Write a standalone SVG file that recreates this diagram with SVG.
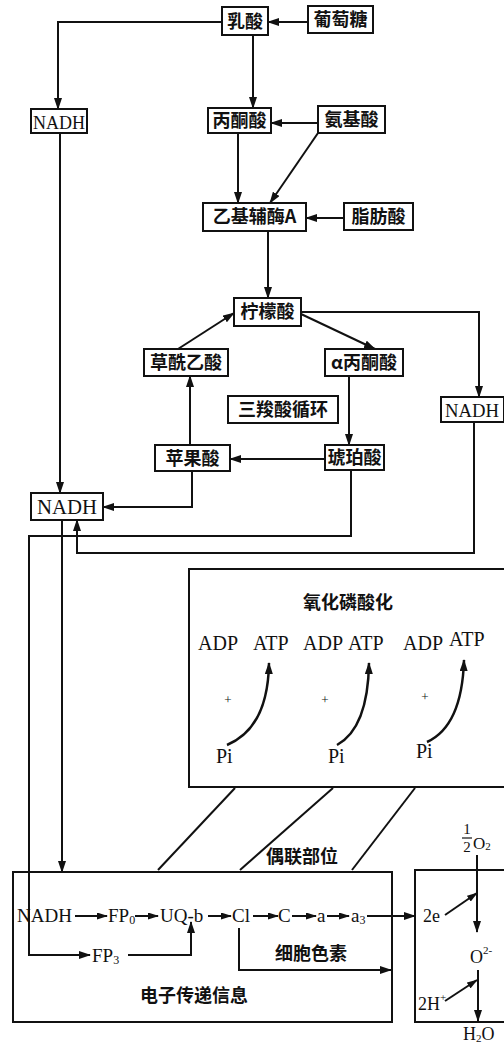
<svg xmlns="http://www.w3.org/2000/svg" width="504" height="1043" viewBox="0 0 504 1043">
<style>
.bx{fill:#fff;stroke:#111;stroke-width:2}
.cn{font-family:"Noto Sans CJK SC",sans-serif;font-weight:bold;font-size:18px;fill:#111;text-anchor:middle}
.lt{font-family:"Liberation Serif",serif;font-size:19px;fill:#111}
.ln{fill:none;stroke:#111;stroke-width:2}
.lnA{fill:none;stroke:#111;stroke-width:2;marker-end:url(#ah)}
.lnS{fill:none;stroke:#111;stroke-width:2;marker-end:url(#as)}
.cv{fill:none;stroke:#111;stroke-width:2.5;marker-end:url(#ah)}
</style>
<defs>
<marker id="ah" markerWidth="12" markerHeight="8" refX="11" refY="4" orient="auto" markerUnits="userSpaceOnUse"><path d="M0,0 L12,4 L0,8 z" fill="#111"/></marker>
<marker id="as" markerWidth="11" markerHeight="7" refX="10" refY="3.5" orient="auto" markerUnits="userSpaceOnUse"><path d="M0,0 L11,3.5 L0,7 z" fill="#111"/></marker>
</defs>
<rect width="504" height="1043" fill="#fff"/>

<g id="connectors">
<path class="lnA" d="M308,22 H268"/>
<path class="lnA" d="M222,22 H58 V109"/>
<path class="lnA" d="M253,35 V108"/>
<path class="lnA" d="M318,123 H271"/>
<path class="lnA" d="M318,133 L270,203"/>
<path class="lnA" d="M238,133 V203"/>
<path class="lnA" d="M344,218 H306"/>
<path class="lnA" d="M268,231 V298"/>
<path class="lnA" d="M301,312 H479 V397"/>
<path class="lnA" d="M178,349 L234,313"/>
<path class="lnA" d="M301,314 L375,349"/>
<path class="lnA" d="M349,376 V445"/>
<path class="lnA" d="M325,459 H230"/>
<path class="lnA" d="M190,445 V376"/>
<path class="lnA" d="M192,471 V507 H103"/>
<path class="lnA" d="M60,133 V493"/>
<path class="lnA" d="M351,470 V536 H29 V955 H90"/>
<path class="lnA" d="M474,422 V553 H77 V520"/>
<path class="lnA" d="M62,520 V872"/>
<path class="ln" d="M158,870 L235,788"/>
<path class="ln" d="M240,870 L333,788"/>
<path class="ln" d="M352,870 L415,788"/>
<path class="lnS" d="M75,916 H107"/>
<path class="lnS" d="M135,916 H158"/>
<path class="lnS" d="M208,916 H231"/>
<path class="lnS" d="M253,916 H278"/>
<path class="lnS" d="M292,916 H316"/>
<path class="lnS" d="M327,916 H349"/>
<path class="lnA" d="M367,916 H415"/>
<path class="lnA" d="M128,955 H191 V922"/>
<path class="lnA" d="M239,928 V970 H391"/>
<path class="lnA" d="M477,855 V932"/>
<path class="lnS" d="M445,915 L477,893"/>
<path class="lnA" d="M478,970 V1021"/>
<path class="lnS" d="M445,1001 L477,980"/>
</g>

<g id="n-rusuan"><rect class="bx" x="222" y="7" width="46" height="28"/><text class="cn" x="245" y="28">乳酸</text></g>
<g id="n-putaotang"><rect class="bx" x="308" y="6" width="65" height="27"/><text class="cn" x="340.5" y="26">葡萄糖</text></g>
<g id="n-nadh1"><rect class="bx" x="31" y="109" width="56" height="24"/><text class="lt" x="59" y="129" text-anchor="middle" textLength="52" lengthAdjust="spacingAndGlyphs">NADH</text></g>
<g id="n-bingtongsuan"><rect class="bx" x="208" y="108" width="63" height="25"/><text class="cn" x="239.5" y="127">丙酮酸</text></g>
<g id="n-anjisuan"><rect class="bx" x="318" y="106" width="67" height="27"/><text class="cn" x="351.5" y="126">氨基酸</text></g>
<g id="n-yijifumei"><rect class="bx" x="203" y="203" width="103" height="28"/><text class="cn" x="254.5" y="223">乙基辅酶A</text></g>
<g id="n-zhifangsuan"><rect class="bx" x="344" y="203" width="69" height="27"/><text class="cn" x="378.5" y="223">脂肪酸</text></g>
<g id="n-ningmengsuan"><rect class="bx" x="234" y="298" width="67" height="28"/><text class="cn" x="267.5" y="318">柠檬酸</text></g>
<g id="n-caoxianyisuan"><rect class="bx" x="144" y="349" width="84" height="27"/><text class="cn" x="186" y="369">草酰乙酸</text></g>
<g id="n-alpha"><rect class="bx" x="325" y="349" width="78" height="27"/><text class="cn" x="364" y="369">α丙酮酸</text></g>
<g id="n-sansuo"><rect class="bx" x="228" y="396" width="110" height="27"/><text class="cn" x="283" y="416">三羧酸循环</text></g>
<g id="n-nadh3"><rect class="bx" x="441" y="397" width="63" height="25"/><text class="lt" x="472" y="417" text-anchor="middle" textLength="54" lengthAdjust="spacingAndGlyphs">NADH</text></g>
<g id="n-hupo"><rect class="bx" x="325" y="445" width="59" height="25"/><text class="cn" x="354.5" y="464">琥珀酸</text></g>
<g id="n-pingguo"><rect class="bx" x="155" y="445" width="75" height="26"/><text class="cn" x="192.5" y="465">苹果酸</text></g>
<g id="n-nadh2"><rect class="bx" x="31" y="493" width="72" height="27"/><text class="lt" x="67" y="514" text-anchor="middle" textLength="60" lengthAdjust="spacingAndGlyphs" style="font-size:20px">NADH</text></g>

<g id="n-yanghua">
<rect class="bx" x="189" y="569" width="320" height="218"/>
<text class="cn" x="348" y="609">氧化磷酸化</text>
<text class="lt" x="198" y="650" style="font-size:20px">ADP</text>
<text class="lt" x="253" y="650" style="font-size:20px">ATP</text>
<text class="lt" x="303" y="650" style="font-size:20px">ADP</text>
<text class="lt" x="348" y="650" style="font-size:20px">ATP</text>
<text class="lt" x="403" y="650" style="font-size:20px">ADP</text>
<text class="lt" x="449" y="646" style="font-size:20px">ATP</text>
<text class="lt" x="228" y="704" text-anchor="middle" style="font-size:13px">+</text>
<text class="lt" x="325" y="704" text-anchor="middle" style="font-size:13px">+</text>
<text class="lt" x="425" y="701" text-anchor="middle" style="font-size:13px">+</text>
<text class="lt" x="216" y="763" style="font-size:20px">Pi</text>
<text class="lt" x="328" y="763" style="font-size:20px">Pi</text>
<text class="lt" x="416" y="758" style="font-size:20px">Pi</text>
<path class="cv" d="M227,745 Q268,728 269,663"/>
<path class="cv" d="M337,745 Q368,728 369,663"/>
<path class="cv" d="M427,742 Q462,726 464,660"/>
</g>

<text id="t-ouliao" class="cn" x="302" y="863">偶联部位</text>

<g id="n-dianzi">
<rect x="13" y="872" width="379" height="150" style="fill:none;stroke:#111;stroke-width:2"/>
<text class="lt" x="17" y="922" textLength="55" lengthAdjust="spacingAndGlyphs">NADH</text>
<text class="lt" x="108" y="922">FP<tspan font-size="12" dy="2">0</tspan></text>
<text class="lt" x="160" y="922">UQ-b</text>
<text class="lt" x="232" y="922">Cl</text>
<text class="lt" x="278" y="922">C</text>
<text class="lt" x="317" y="922">a</text>
<text class="lt" x="351" y="922">a<tspan font-size="12" dy="2">3</tspan></text>
<text class="lt" x="92" y="962">FP<tspan font-size="12" dy="2">3</tspan></text>
<text class="cn" x="311" y="960">细胞色素</text>
<text class="cn" x="194" y="1002">电子传递信息</text>
</g>

<g id="n-right">
<path class="ln" d="M510,870 H415 V1022 H510"/>
<text class="lt" x="467" y="834" text-anchor="middle" style="font-size:15px">1</text>
<path class="ln" d="M462,838 H472" style="stroke-width:1.2"/>
<text class="lt" x="467" y="852" text-anchor="middle" style="font-size:15px">2</text>
<text class="lt" x="473" y="849" style="font-size:17px">O<tspan font-size="11" dy="1">2</tspan></text>
<text class="lt" x="423" y="922" style="font-size:18px">2e</text>
<text class="lt" x="470" y="963" style="font-size:18px">O<tspan font-size="11" dy="-9">2-</tspan></text>
<text class="lt" x="418" y="1010" style="font-size:18px">2H<tspan font-size="11" dy="-9">+</tspan></text>
<text class="lt" x="463" y="1040" style="font-size:18px">H<tspan font-size="11" dy="2">2</tspan><tspan dy="-2">O</tspan></text>
</g>
</svg>
